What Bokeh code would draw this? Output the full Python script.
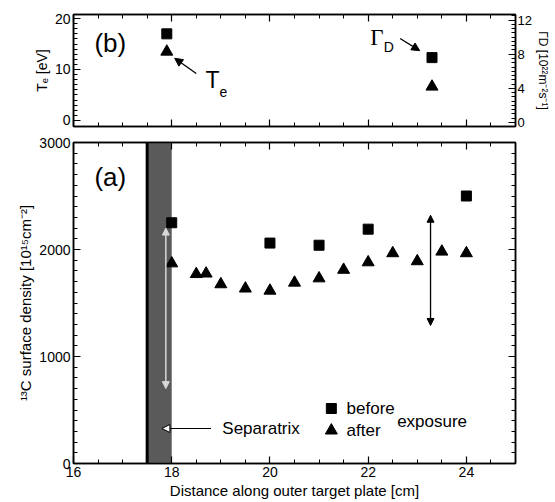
from bokeh.plotting import figure
from bokeh.layouts import column
from bokeh.models import Range1d, LinearAxis, FixedTicker, Arrow, NormalHead, Label
from bokeh.embed import file_html
from bokeh.resources import INLINE

FONT = "Liberation Sans"

# ---- panel (b): plasma parameters ----
te_x = [17.9]
te_before = [17.0]
te_after = [13.5]
gd_x = [23.3]
gd_before = [7.6]
gd_after = [4.2]

# ---- panel (a): 13C surface density ----
before_x = [18.0, 20.0, 21.0, 22.0, 24.0]
before_y = [2250, 2060, 2040, 2190, 2500]
after_x = [18.0, 18.5, 18.7, 19.0, 19.5, 20.0, 20.5, 21.0, 21.5, 22.0, 22.5, 23.0, 23.5, 24.0]
after_y = [1870, 1770, 1775, 1675, 1635, 1615, 1690, 1730, 1810, 1880, 1965, 1890, 1980, 1965]

separatrix_band = [17.5, 18.0]
uncert_x = [17.88, 23.27]
uncert_lo = [700, 1290]
uncert_hi = [2200, 2320]

x_ticks = [16, 18, 20, 22, 24]
x_minor = [16 + 0.5 * i for i in range(19)]
ya_ticks = [0, 1000, 2000, 3000]
ya_minor = [100 * i for i in range(31)]
yb_ticks = [0, 10, 20]
yb_minor = [1.0 * i for i in range(21)]
yr_ticks = [0, 4, 8, 12]
yr_minor = [0.5 * i for i in range(26)]


def style_axis(ax, labels=True, size="14px"):
    ax.major_tick_in = 7
    ax.major_tick_out = 0
    ax.minor_tick_in = 4
    ax.minor_tick_out = 0
    ax.axis_line_color = "black"
    ax.axis_line_width = 1.5
    ax.major_tick_line_color = "black"
    ax.major_tick_line_width = 1.2
    ax.minor_tick_line_color = "black"
    ax.major_label_text_font = FONT
    if labels:
        ax.major_label_text_color = "black"
        ax.major_label_text_font_size = size
        ax.major_label_standoff = 3
    else:
        ax.major_label_text_color = None
        ax.major_label_text_font_size = "1px"
        ax.major_label_standoff = 0
    ax.axis_label_text_font = FONT
    ax.axis_label_text_font_style = "normal"
    ax.axis_label_text_color = "black"
    ax.axis_label_text_font_size = "14px"
    ax.axis_label_standoff = 2


# ================= top figure (b) =================
pt = figure(width=555, height=134, x_range=Range1d(16, 25), y_range=Range1d(-1.2, 20.8),
            output_backend="svg", toolbar_location=None,
            min_border_left=73, min_border_right=40, min_border_top=14, min_border_bottom=8)
pt.xgrid.visible = False
pt.ygrid.visible = False
pt.outline_line_color = "black"
pt.outline_line_width = 1.5
pt.extra_y_ranges = {"gd": Range1d(-0.47, 12.65)}

pt.xaxis.ticker = FixedTicker(ticks=x_ticks, minor_ticks=x_minor)
style_axis(pt.xaxis[0], labels=False)
pt.yaxis.ticker = FixedTicker(ticks=yb_ticks, minor_ticks=yb_minor)
style_axis(pt.yaxis[0])
pt.yaxis.axis_label = "Tₑ [eV]"

rax = LinearAxis(y_range_name="gd", ticker=FixedTicker(ticks=yr_ticks, minor_ticks=yr_minor),
                 axis_label="ΓD [10²²m⁻²s⁻¹]")
style_axis(rax, size="13px")
rax.major_label_standoff = 2
rax.axis_label_standoff = 1
rax.axis_label_text_font_size = "12px"
pt.add_layout(rax, "right")
tax = LinearAxis(ticker=FixedTicker(ticks=x_ticks, minor_ticks=x_minor))
style_axis(tax, labels=False)
pt.add_layout(tax, "above")

pt.scatter(te_x, te_before, marker="square", size=10, color="black")
pt.scatter(te_x, te_after, marker="triangle", size=12, color="black")
pt.scatter(gd_x, gd_before, marker="square", size=10, color="black", y_range_name="gd")
pt.scatter(gd_x, gd_after, marker="triangle", size=12, color="black", y_range_name="gd")

pt.add_layout(Label(x=16.75, y=15.3, text="(b)", text_font=FONT, text_font_size="26px",
                    text_align="center", text_baseline="middle", text_color="black"))
pt.add_layout(Label(x=18.83, y=8.0, text="T", text_font=FONT, text_font_size="23px",
                    text_align="center", text_baseline="middle", text_color="black"))
pt.add_layout(Label(x=19.05, y=5.6, text="e", text_font=FONT, text_font_size="14px",
                    text_align="center", text_baseline="middle", text_color="black"))
pt.add_layout(Label(x=22.18, y=16.2, text="Γ", text_font="Liberation Serif", text_font_size="23px",
                    text_align="center", text_baseline="middle", text_color="black"))
pt.add_layout(Label(x=22.42, y=14.5, text="D", text_font=FONT, text_font_size="14px",
                    text_align="center", text_baseline="middle", text_color="black"))
pt.add_layout(Arrow(end=NormalHead(size=8, fill_color="black", line_color="black"),
                    x_start=18.5, y_start=9.2, x_end=18.06, y_end=12.2,
                    line_color="black", line_width=1.3))
pt.add_layout(Arrow(end=NormalHead(size=8, fill_color="black", line_color="black"),
                    x_start=22.65, y_start=16.1, x_end=23.05, y_end=13.7,
                    line_color="black", line_width=1.3))

# ================= bottom figure (a) =================
pb = figure(width=555, height=368, x_range=Range1d(16, 25), y_range=Range1d(0, 3000),
            output_backend="svg", toolbar_location=None,
            min_border_left=73, min_border_right=40, min_border_top=8, min_border_bottom=39)
pb.xgrid.visible = False
pb.ygrid.visible = False
pb.outline_line_color = "black"
pb.outline_line_width = 1.5

pb.xaxis.ticker = FixedTicker(ticks=x_ticks, minor_ticks=x_minor)
style_axis(pb.xaxis[0])
pb.xaxis.axis_label = "Distance along outer target plate [cm]"
pb.xaxis.axis_label_text_font_size = "15px"
pb.xaxis.axis_label_standoff = 2
pb.yaxis.ticker = FixedTicker(ticks=ya_ticks, minor_ticks=ya_minor)
style_axis(pb.yaxis[0])
pb.yaxis.axis_label = "¹³C surface density [10¹⁵cm⁻²]"
pb.yaxis.axis_label_text_font_size = "15px"

rax2 = LinearAxis(ticker=FixedTicker(ticks=ya_ticks, minor_ticks=ya_minor))
style_axis(rax2, labels=False)
pb.add_layout(rax2, "right")
tax2 = LinearAxis(ticker=FixedTicker(ticks=x_ticks, minor_ticks=x_minor))
style_axis(tax2, labels=False)
pb.add_layout(tax2, "above")

# separatrix band
pb.quad(left=[separatrix_band[0]], right=[separatrix_band[1]], bottom=[0], top=[3000],
        fill_color="#5a5a5a", line_color=None)
pb.segment(x0=[separatrix_band[0]], x1=[separatrix_band[0]], y0=[0], y1=[3000],
           line_color="black", line_width=3)

pb.scatter(before_x, before_y, marker="square", size=10, color="black")
pb.scatter(after_x, after_y, marker="triangle", size=12, color="black")

# uncertainty double arrows
pb.add_layout(Arrow(start=NormalHead(size=7, fill_color="#d8d8d8", line_color="#d8d8d8"),
                    end=NormalHead(size=7, fill_color="#d8d8d8", line_color="#d8d8d8"),
                    x_start=uncert_x[0], y_start=uncert_lo[0], x_end=uncert_x[0], y_end=uncert_hi[0],
                    line_color="#d8d8d8", line_width=1.5))
pb.add_layout(Arrow(start=NormalHead(size=7, fill_color="black", line_color="black"),
                    end=NormalHead(size=7, fill_color="black", line_color="black"),
                    x_start=uncert_x[1], y_start=uncert_lo[1], x_end=uncert_x[1], y_end=uncert_hi[1],
                    line_color="black", line_width=1.3))

# separatrix label
pb.add_layout(Arrow(end=NormalHead(size=8, fill_color="white", line_color="black"),
                    x_start=18.8, y_start=327, x_end=17.8, y_end=327,
                    line_color="black", line_width=1.2))
pb.add_layout(Label(x=19.03, y=327, text="Separatrix", text_font=FONT, text_font_size="17px",
                    text_align="left", text_baseline="middle", text_color="black"))

pb.add_layout(Label(x=16.75, y=2673, text="(a)", text_font=FONT, text_font_size="26px",
                    text_align="center", text_baseline="middle", text_color="black"))

# legend
pb.scatter([21.25], [514], marker="square", size=10, color="black")
pb.scatter([21.25], [308], marker="triangle", size=12, color="black")
pb.add_layout(Label(x=21.56, y=514, text="before", text_font=FONT, text_font_size="17px",
                    text_align="left", text_baseline="middle", text_color="black"))
pb.add_layout(Label(x=21.56, y=308, text="after", text_font=FONT, text_font_size="17px",
                    text_align="left", text_baseline="middle", text_color="black"))
pb.add_layout(Label(x=22.59, y=393, text="exposure", text_font=FONT, text_font_size="17px",
                    text_align="left", text_baseline="middle", text_color="black"))

layout = column(pt, pb, spacing=0)
open("out.html", "w").write(file_html(layout, INLINE))
